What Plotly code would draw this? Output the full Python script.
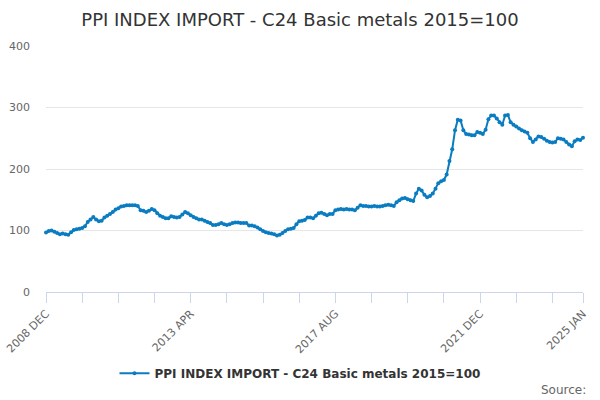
import plotly.graph_objects as go

# monthly index values, 2008 DEC .. 2025 JAN
start_year = 2008
start_month = 12
values = [
    96.6, 99, 100, 98, 96, 94, 95, 94, 93, 97, 101, 102,
    103, 104, 107, 114, 118, 122, 118, 115, 116, 121, 124, 127,
    130, 134, 136, 139, 140, 141, 141, 141, 141, 140, 133, 132,
    130, 132, 135, 133, 128, 124, 122, 120, 120, 123, 122, 121,
    122, 126, 130, 128, 125, 122, 120, 118, 118, 116, 114, 112,
    109, 109, 110, 112, 110, 109, 110, 112, 113, 113, 112, 112,
    112, 108, 108, 107, 105, 102, 99, 97, 96, 95, 94, 92,
    93, 96, 99, 102, 103, 104, 110, 115, 116, 117, 121, 121,
    120, 124, 128, 129, 127, 125, 127, 127, 133, 134, 135, 134,
    135, 134, 134, 133, 137, 141, 140, 140, 139, 139, 140, 139,
    139, 140, 141, 142, 141, 140, 146, 149, 152, 153, 151, 149,
    148, 160, 168, 165, 158, 154, 156, 160, 168, 177, 180, 182,
    191, 213, 232, 263, 280, 279, 263, 257, 256, 255, 255, 260,
    259, 257, 264, 281, 287, 287, 282, 276, 272, 287, 288, 276,
    272, 269, 266, 263, 261, 259, 250, 244, 248, 253, 252, 249,
    246, 244, 243, 244, 250, 249, 248, 244, 240, 237, 245, 248,
    247, 251,
]
month_names = ["JAN", "FEB", "MAR", "APR", "MAY", "JUN",
               "JUL", "AUG", "SEP", "OCT", "NOV", "DEC"]

labels = []
for i in range(len(values)):
    m = start_month - 1 + i
    labels.append(f"{start_year + m // 12} {month_names[m % 12]}")

idx = list(range(len(values)))
last = len(values) - 1
tickvals = list(range(0, last, 13)) + [last]
ticktext = [labels[t] if (t % 52 == 0 or t == last) else "" for t in tickvals]

name = "PPI INDEX IMPORT - C24 Basic metals 2015=100"
blue = "#0a7cc1"

fig = go.Figure()
fig.add_trace(go.Scatter(
    x=idx, y=values, mode="lines+markers", name=name,
    text=labels, hovertemplate="%{text}: %{y}<extra></extra>",
    line=dict(color=blue, width=2),
    marker=dict(color=blue, size=4),
    cliponaxis=False,
))

fig.update_layout(
    width=600, height=400,
    margin=dict(l=46, r=17, t=46, b=108, autoexpand=False),
    paper_bgcolor="white", plot_bgcolor="white",
    font=dict(family="DejaVu Sans", color="#666666", size=11),
    title=dict(text=name, x=0.5, xanchor="center", y=0.95, yanchor="middle",
               font=dict(size=18, color="#333333")),
    showlegend=True,
    legend=dict(orientation="h", xref="container", x=0.5, xanchor="center",
                y=-0.33, yanchor="middle",
                font=dict(size=12, color="#333333", weight="bold")),
    annotations=[dict(text="Source:", xref="paper", yref="paper", x=1.009, y=-0.40,
                      xanchor="right", yanchor="middle", showarrow=False,
                      font=dict(size=12, color="#666666"))],
)
fig.update_xaxes(
    range=[0, last], tickvals=tickvals, ticktext=ticktext, tickangle=-45,
    showgrid=False, showline=True, linecolor="#ccd6eb", linewidth=1,
    ticks="outside", ticklen=10, tickcolor="#ccd6eb", zeroline=False,
    automargin=False,
)
fig.update_yaxes(
    range=[0, 400], tickvals=[0, 100, 200, 300, 400],
    gridcolor="#e6e6e6", zeroline=False, showline=False, ticks="",
    ticklabelstandoff=15, automargin=False,
)

# drop the browser's default body margin so the chart sits at the page corner
fig.write_html("out.html", config={"displayModeBar": False},
               post_script="document.body.style.margin='0';")
